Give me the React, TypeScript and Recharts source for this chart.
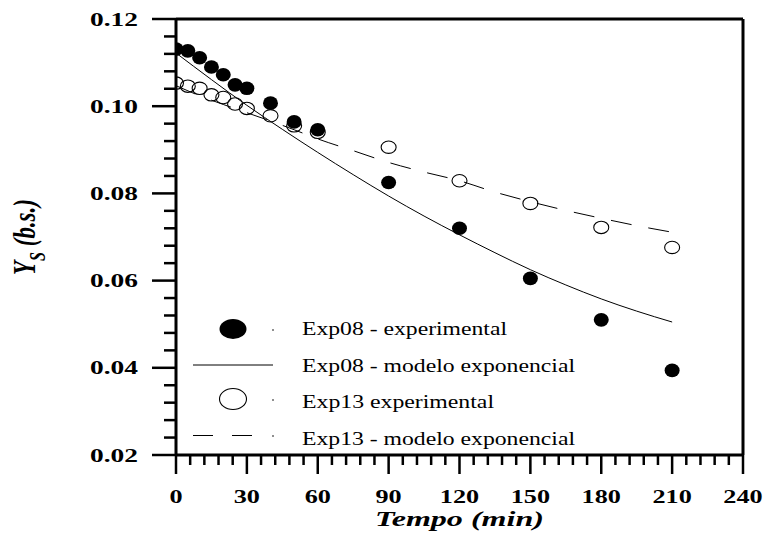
import {
  ComposedChart,
  Line,
  Scatter,
  XAxis,
  YAxis,
  ReferenceLine,
  Legend,
  Label
} from "recharts";

// tempo (min) and Ys (b.s.)
const exp08Time = [0, 5, 10, 15, 20, 25, 30, 40, 50, 60, 90, 120, 150, 180, 210];
const exp08Ys = [0.1131, 0.1127, 0.1111, 0.109, 0.1072, 0.1049, 0.1041, 0.1007, 0.0964, 0.0946, 0.0825, 0.072, 0.0605, 0.051, 0.0394];

const exp13Time = [0, 5, 10, 15, 20, 25, 30, 40, 50, 60, 90, 120, 150, 180, 210];
const exp13Ys = [0.1053, 0.1046, 0.1041, 0.1026, 0.102, 0.1005, 0.0995, 0.0978, 0.0955, 0.094, 0.0906, 0.0829, 0.0777, 0.0722, 0.0676];

const model08Time = [0, 15, 30, 45, 60, 75, 90, 105, 120, 135, 150, 165, 180, 195, 210];
const model08Ys = [0.1122, 0.1061, 0.1002, 0.0947, 0.0894, 0.0843, 0.0794, 0.0748, 0.0705, 0.0664, 0.0625, 0.059, 0.0558, 0.053, 0.0505];

const model13Time = [0, 10, 20, 30, 40, 50, 60, 75, 90, 105, 120, 135, 150, 165, 180, 195, 210];
const model13Ys = [0.1047, 0.1024, 0.1004, 0.0985, 0.0966, 0.0946, 0.0925, 0.0898, 0.0871, 0.0849, 0.0829, 0.0803, 0.0781, 0.0761, 0.0743, 0.0726, 0.0711];

const xTicks = [0, 6, 12, 18, 24, 30, 36, 42, 48, 54, 60, 66, 72, 78, 84, 90, 96, 102, 108, 114, 120, 126, 132, 138, 144, 150, 156, 162, 168, 174, 180, 186, 192, 198, 204, 210, 216, 222, 228, 234, 240];
const yTicks = [0.02, 0.024, 0.028, 0.032, 0.036, 0.04, 0.044, 0.048, 0.052, 0.056, 0.06, 0.064, 0.068, 0.072, 0.076, 0.08, 0.084, 0.088, 0.092, 0.096, 0.1, 0.104, 0.108, 0.112, 0.116, 0.12];

const legendLabels = [
  "Exp08 - experimental",
  "Exp08 - modelo exponencial",
  "Exp13 experimental",
  "Exp13 - modelo exponencial"
];

const pairs = (ts: number[], vs: number[]) => ts.map((t, i) => ({ t, v: vs[i] }));

const exp08Data = pairs(exp08Time, exp08Ys);
const exp13Data = pairs(exp13Time, exp13Ys);
const model08Data = pairs(model08Time, model08Ys);
const model13Data = pairs(model13Time, model13Ys);

const serif = "Liberation Serif";

function XTick({ x, y, payload }: any) {
  const v = payload.value;
  const major = v % 30 === 0;
  const label = String(v);
  return (
    <g>
      <line x1={x} x2={x} y1={y} y2={y + (major ? 19 : 10)} stroke="#000" strokeWidth={2.5} />
      {major && (
        <text
          x={x}
          y={y + 48}
          textAnchor="middle"
          fontFamily={serif}
          fontWeight="bold"
          fontSize={19}
          textLength={13.1 * label.length}
          lengthAdjust="spacingAndGlyphs"
          fill="#000"
        >
          {label}
        </text>
      )}
    </g>
  );
}

function YTick({ x, y, payload }: any) {
  const v = payload.value;
  const major = Math.round(v * 1000) % 20 === 0;
  return (
    <g>
      <line x1={x} x2={x - (major ? 24 : 12)} y1={y} y2={y} stroke="#000" strokeWidth={2.5} />
      {major && (
        <text
          x={x - 38}
          y={y + 6.5}
          textAnchor="end"
          fontFamily={serif}
          fontWeight="bold"
          fontSize={19}
          textLength={48}
          lengthAdjust="spacingAndGlyphs"
          fill="#000"
        >
          {v.toFixed(2)}
        </text>
      )}
    </g>
  );
}

const filledDot = (p: any) => <ellipse cx={p.cx} cy={p.cy} rx={7.5} ry={6.8} fill="#000" />;
const openDot = (p: any) => (
  <ellipse cx={p.cx} cy={p.cy} rx={7.5} ry={6.2} fill="none" stroke="#000" strokeWidth={1.1} />
);

function LegendBox() {
  const rows = [335, 371.5, 408, 444.5];
  const textProps = {
    x: 302,
    fontFamily: serif,
    fontSize: 19,
    fill: "#000",
    lengthAdjust: "spacingAndGlyphs" as const
  };
  return (
    <svg width={766} height={536} style={{ position: "absolute", left: 0, top: 0, pointerEvents: "none" }}>
      <ellipse cx={233} cy={329} rx={13.5} ry={10} fill="#000" />
      <circle cx={273} cy={330} r={0.8} fill="#000" />
      <text {...textProps} y={rows[0]} textLength={205}>{legendLabels[0]}</text>

      <line x1={193} x2={273} y1={365} y2={365} stroke="#000" strokeWidth={1} />
      <text {...textProps} y={rows[1]} textLength={273}>{legendLabels[1]}</text>

      <ellipse cx={233} cy={399} rx={13.5} ry={10.5} fill="none" stroke="#000" strokeWidth={1.1} />
      <circle cx={273} cy={400} r={0.8} fill="#000" />
      <text {...textProps} y={rows[2]} textLength={192}>{legendLabels[2]}</text>

      <line x1={193} x2={257} y1={435.5} y2={435.5} stroke="#000" strokeWidth={1} strokeDasharray="20 19" />
      <circle cx={273} cy={436} r={0.8} fill="#000" />
      <text {...textProps} y={rows[3]} textLength={273}>{legendLabels[3]}</text>
    </svg>
  );
}

function XTitle({ viewBox }: any) {
  const cx = viewBox.x + viewBox.width / 2;
  return (
    <text
      x={cx}
      y={viewBox.y + 71}
      textAnchor="middle"
      fontFamily={serif}
      fontWeight="bold"
      fontStyle="italic"
      fontSize={22}
      textLength={169}
      lengthAdjust="spacingAndGlyphs"
      fill="#000"
    >
      Tempo (min)
    </text>
  );
}

function YTitle({ viewBox }: any) {
  const cy = viewBox.y + viewBox.height / 2;
  return (
    <text
      transform={`translate(35, ${cy}) scale(1.4, 1) rotate(-90)`}
      textAnchor="middle"
      fontFamily={serif}
      fontWeight="bold"
      fontStyle="italic"
      fontSize={23}
      fill="#000"
    >
      Y
      <tspan fontSize={16} dy={7}>S</tspan>
      <tspan dy={-7}> (b.s.)</tspan>
    </text>
  );
}

export default function App() {
  return (
    <div style={{ position: "absolute", left: 0, top: 0, width: 766, height: 536, background: "#fff" }}>
      <ComposedChart
        width={766}
        height={536}
        margin={{ top: 19, right: 23, bottom: 51, left: 116 }}
      >
        <XAxis
          type="number"
          dataKey="t"
          domain={[0, 240]}
          ticks={xTicks}
          interval={0}
          tickSize={0}
          tickMargin={0}
          tickLine={false}
          tick={<XTick />}
          height={30}
          axisLine={{ stroke: "#000", strokeWidth: 3 }}
          allowDataOverflow
        >
          <Label content={<XTitle />} />
        </XAxis>
        <YAxis
          type="number"
          dataKey="v"
          domain={[0.02, 0.12]}
          ticks={yTicks}
          interval={0}
          tickSize={0}
          tickMargin={0}
          tickLine={false}
          tick={<YTick />}
          width={60}
          axisLine={{ stroke: "#000", strokeWidth: 3 }}
          allowDataOverflow
        >
          <Label content={<YTitle />} />
        </YAxis>
        <ReferenceLine y={0.12} stroke="#000" strokeWidth={3} />
        <ReferenceLine x={240} stroke="#000" strokeWidth={3} />

        <Line
          data={model08Data}
          dataKey="v"
          type="monotone"
          stroke="#000"
          strokeWidth={1}
          dot={false}
          isAnimationActive={false}
        />
        <Line
          data={model13Data}
          dataKey="v"
          type="monotone"
          stroke="#000"
          strokeWidth={1}
          strokeDasharray="21 17"
          dot={false}
          isAnimationActive={false}
        />
        <Scatter data={exp13Data} dataKey="v" shape={openDot} isAnimationActive={false} />
        <Scatter data={exp08Data} dataKey="v" shape={filledDot} isAnimationActive={false} />

        <Legend
          layout="vertical"
          align="center"
          verticalAlign="middle"
          wrapperStyle={{ left: 0, top: 0, width: 766, height: 536, pointerEvents: "none" }}
          content={() => <LegendBox />}
        />
      </ComposedChart>
    </div>
  );
}
